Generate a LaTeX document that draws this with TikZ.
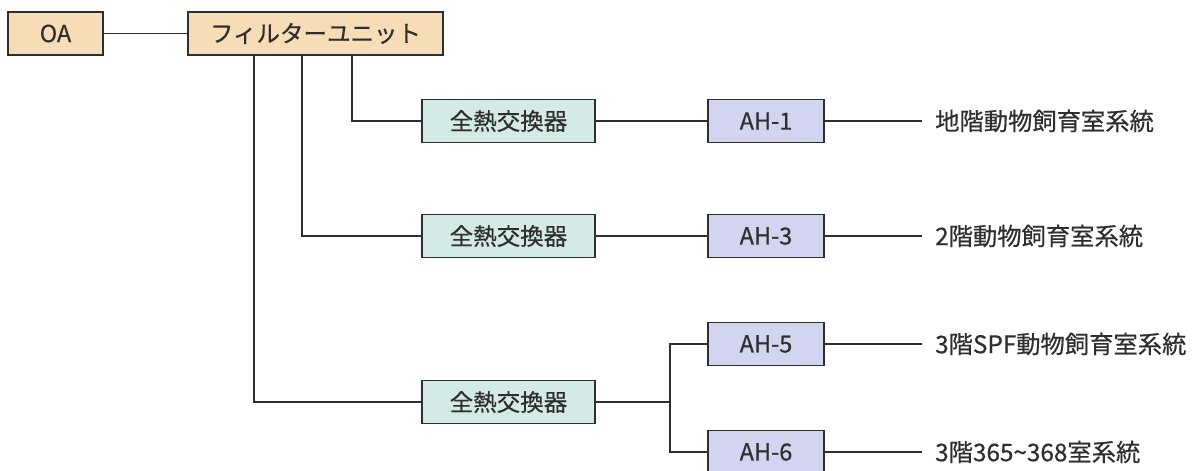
\documentclass[tikz,border=0pt]{standalone}
\usepackage{fontspec}
\setmainfont{Noto Sans CJK JP}
\newfontfamily\medfont{Noto Sans CJK JP}[FakeBold=0.5]
\definecolor{beige}{HTML}{F7DDB6}
\definecolor{teal}{HTML}{D4EAE6}
\definecolor{lav}{HTML}{D3D4F0}
\definecolor{ink}{HTML}{2E2E2E}
\begin{document}
\begin{tikzpicture}[x=1pt,y=-1pt,
  box/.style={draw=ink,line width=1.8pt,rectangle,inner sep=0pt,minimum height=43pt,text=ink,font=\medfont\fontsize{23.5}{26}\selectfont},
  oabox/.style={box,fill=beige},
  hexbox/.style={box,fill=teal,minimum width=173pt},
  ahbox/.style={box,fill=lav,minimum width=116pt},
  lbl/.style={anchor=west,inner sep=0pt,text=ink,font=\medfont\fontsize{24.3}{26}\selectfont},
  conn/.style={draw=ink,line width=1.7pt}]
\useasboundingbox (0,0) rectangle (1195,471);
\node[oabox,minimum width=95pt] (oa) at (55.5,33.5) {OA};
\node[oabox,minimum width=255pt] (fu) at (315.5,33.5) {フィルターユニット};
\node[hexbox] (h1) at (508.5,121) {全熱交換器};
\node[hexbox] (h2) at (508.5,236) {全熱交換器};
\node[hexbox] (h3) at (508.5,402) {全熱交換器};
\node[ahbox] (a1) at (766,121) {AH-1};
\node[ahbox] (a3) at (766,236) {AH-3};
\node[ahbox] (a5) at (766,344) {AH-5};
\node[ahbox] (a6) at (766,452) {AH-6};
\node[lbl] (t1) at (935,121) {地階動物飼育室系統};
\node[lbl] (t2) at (935,236) {2階動物飼育室系統};
\node[lbl] (t3) at (935,344) {3階SPF動物飼育室系統};
\node[lbl] (t4) at (935,452) {3階365\textasciitilde368室系統};
\coordinate (j) at (670,402);
\draw[conn] (oa) -- (fu);
\draw[conn] (fu.south -| 352,0) |- (h1);
\draw[conn] (fu.south -| 302,0) |- (h2);
\draw[conn] (fu.south -| 254,0) |- (h3);
\draw[conn] (h1) -- (a1);
\draw[conn] (h2) -- (a3);
\draw[conn] (h3) -- (j);
\draw[conn] (j) |- (a5);
\draw[conn] (j) |- (a6);
\draw[conn] (a1.east) -- ([xshift=-13pt]t1.west);
\draw[conn] (a3.east) -- ([xshift=-13pt]t2.west);
\draw[conn] (a5.east) -- ([xshift=-13pt]t3.west);
\draw[conn] (a6.east) -- ([xshift=-13pt]t4.west);
\end{tikzpicture}
\end{document}
